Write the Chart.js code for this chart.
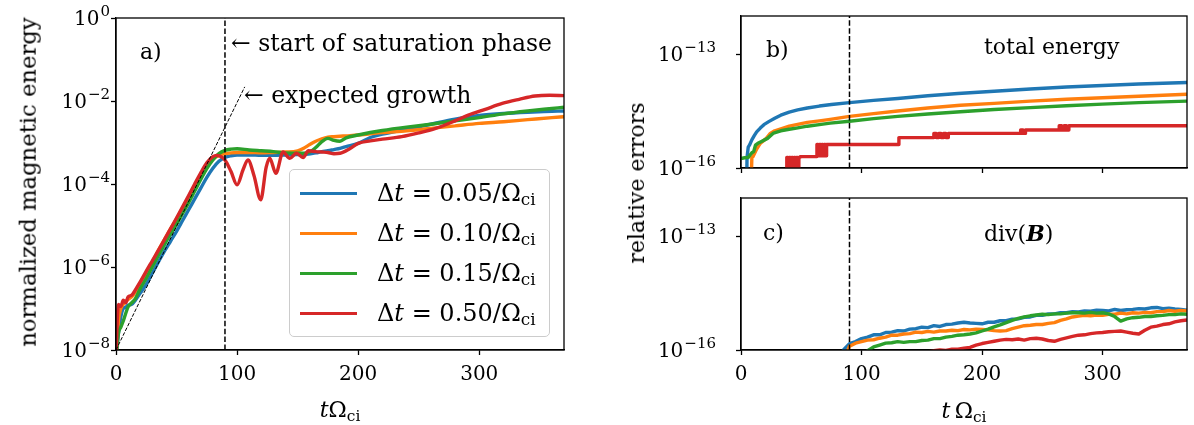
<!DOCTYPE html>
<html>
<head>
<meta charset="utf-8">
<script src="https://cdn.jsdelivr.net/npm/chart.js@4.4.0/dist/chart.umd.min.js"></script>
<style>
  body { margin: 0; background: #fff; }
  #fig { position: relative; width: 1194px; height: 425px; overflow: hidden;
         font-family: "DejaVu Serif", serif; color: #000; }
  .pane { position: absolute; }
  .txt { position: absolute; white-space: nowrap; font-size: 22px; line-height: 1;
         transform: translate(0, -50%); }
  .big { font-size: 23.5px; }
  .ctr { transform: translate(-50%, -50%); }
  .rot { transform: translate(-50%, -50%) rotate(-90deg); }
  sub { font-size: 70%; vertical-align: -0.25em; line-height: 0; }
  #legend { position: absolute; left: 289px; top: 169px; width: 261px; height: 168px;
            box-sizing: border-box; border: 1px solid #cccccc; border-radius: 5px;
            background: rgba(255, 255, 255, 0.8); }
  .row { position: absolute; left: 0; }
  .swatch { position: absolute; left: 10px; top: -1.5px; width: 57px; height: 3px; }
  .lab { position: absolute; left: 87px; top: 0; font-size: 24px; line-height: 1;
         white-space: nowrap; transform: translate(0, -50%); }
</style>
</head>
<body>
<div id="fig">
  <div class="pane" style="left:0;top:0;"><canvas id="chartA" width="580" height="425"></canvas></div>
  <div class="pane" style="left:600px;top:0;"><canvas id="chartB" width="594" height="180"></canvas></div>
  <div class="pane" style="left:600px;top:180px;"><canvas id="chartC" width="594" height="245"></canvas></div>

  <div class="txt" style="left:140px;top:52px;">a)</div>
  <div class="txt big" style="left:231px;top:44px;">← start of saturation phase</div>
  <div class="txt big" style="left:244px;top:96px;">← expected growth</div>
  <div class="txt rot" style="left:28px;top:182px;font-size:22.7px;">normalized magnetic energy</div>
  <div class="txt ctr" style="left:340px;top:410px;"><i>t</i>Ω<sub>ci</sub></div>

  <div class="txt" style="left:766px;top:50px;">b)</div>
  <div class="txt" style="left:984px;top:47px;">total energy</div>
  <div class="txt" style="left:763px;top:233px;">c)</div>
  <div class="txt" style="left:984px;top:233px;">div(<b><i>B</i></b>)</div>
  <div class="txt rot" style="left:637px;top:183px;">relative errors</div>
  <div class="txt ctr" style="left:964px;top:411px;"><i>t</i>&#8201;Ω<sub>ci</sub></div>

  <div id="legend"></div>
</div>
<script>
// colours of the four runs
var runColors = ["#1f77b4", "#ff7f0e", "#2ca02c", "#d62728"];
var runLabels = ["0.05", "0.10", "0.15", "0.50"];

// saturation phase starts here
var tSaturation = 90;

// panel a) normalized magnetic energy, log10 values
var tA = [0, 2, 4, 6, 8, 10, 13, 16, 20, 25, 30, 35, 40, 45, 50, 55, 60, 65, 70, 75, 80, 85, 90, 95, 100,
  110, 120, 130, 140, 150, 155, 160, 165, 170, 175, 180, 185, 190, 200, 210, 220, 240, 260, 280, 300, 320, 340, 360, 370];
var aBlue = [-8.2, -7.6, -7.2, -7.0, -6.97, -6.92, -6.9, -6.8, -6.63, -6.42, -6.15, -5.88, -5.62, -5.38, -5.14, -4.88, -4.62, -4.36, -4.1, -3.84, -3.62, -3.45, -3.36, -3.32, -3.3,
  -3.3, -3.31, -3.31, -3.3, -3.29, -3.29, -3.27, -3.25, -3.22, -3.2, -3.17, -3.14, -3.1, -3.02, -2.88, -2.8, -2.68, -2.56, -2.44, -2.35, -2.3, -2.27, -2.25, -2.24];
var aOrange = [-8.2, -7.3, -7.0, -6.9, -6.84, -6.78, -6.72, -6.6, -6.38, -6.14, -5.88, -5.6, -5.34, -5.08, -4.84, -4.58, -4.32, -4.05, -3.78, -3.55, -3.4, -3.31, -3.27, -3.25, -3.24,
  -3.24, -3.25, -3.24, -3.23, -3.2, -3.14, -3.05, -2.97, -2.91, -2.87, -2.86, -2.85, -2.84, -2.82, -2.79, -2.76, -2.72, -2.66, -2.6, -2.54, -2.5, -2.45, -2.4, -2.38];
var aGreen = [-8.2, -7.6, -7.45, -7.3, -7.12, -6.96, -6.86, -6.76, -6.52, -6.27, -5.99, -5.72, -5.46, -5.21, -4.97, -4.71, -4.45, -4.17, -3.89, -3.63, -3.42, -3.27, -3.19, -3.16, -3.15,
  -3.18, -3.2, -3.22, -3.25, -3.26, -3.26, -3.23, -3.12, -2.98, -2.9, -2.95, -2.97, -2.89, -2.82, -2.76, -2.71, -2.63, -2.56, -2.48, -2.4, -2.31, -2.24, -2.18, -2.15];
var tARed = [0, 1, 2, 4, 6, 8, 10, 13, 16, 20, 25, 30, 35, 40, 45, 50, 55, 60, 65, 70, 75, 80,
  83, 86, 90, 95, 100, 105, 109, 114, 119.5, 124, 127, 132, 138, 143.5, 149, 154.5, 159,
  165, 170, 175, 180, 185, 193, 200, 210, 220, 236, 250, 264, 280, 291, 305, 319, 333, 346, 358, 370];
var aRed = [-8.2, -7.3, -6.9, -6.95, -6.8, -6.86, -6.72, -6.68, -6.55, -6.36, -6.1, -5.85, -5.6, -5.34, -5.08, -4.82, -4.55, -4.28, -4.0, -3.73, -3.49, -3.34,
  -3.31, -3.33, -3.42, -3.7, -4.02, -3.65, -3.42, -3.8, -4.38, -3.6, -3.38, -3.74, -3.23, -3.38, -3.26, -3.36, -3.2,
  -3.22, -3.23, -3.24, -3.27, -3.26, -3.15, -3.02, -2.96, -2.92, -2.86, -2.77, -2.66, -2.48, -2.34, -2.2, -2.06, -1.96, -1.88, -1.86, -1.87];
// expected exponential growth (end points)
var tExpected = [0, 106.3];
var expectedLog = [-8, -1.66];

// panel b) relative error of total energy, log10 values
var tBBlue = [4.5, 5, 6, 7, 9, 11, 13, 16, 19, 23, 28, 33, 40, 47, 55, 65, 75, 90, 110, 130, 155, 180, 210, 240, 270, 300, 330, 370];
var bBlue = [-17, -15.72, -15.45, -15.4, -15.26, -15.15, -15.05, -14.95, -14.86, -14.78, -14.69, -14.61, -14.53, -14.47, -14.42, -14.37, -14.33, -14.28, -14.22, -14.17, -14.1, -14.04, -13.98, -13.92, -13.87, -13.83, -13.79, -13.75];
var tBOrange = [8, 9, 10, 13, 16, 18, 21, 24, 28, 35, 40, 46, 55, 65, 74, 90, 110, 130, 155, 182, 210, 240, 270, 300, 330, 370];
var bOrange = [-17, -15.72, -15.7, -15.5, -15.35, -15.3, -15.22, -15.1, -15.02, -14.95, -14.9, -14.86, -14.8, -14.76, -14.72, -14.64, -14.57, -14.5, -14.42, -14.35, -14.3, -14.24, -14.19, -14.15, -14.11, -14.06];
var tBGreen = [0, 3, 6, 9, 10.5, 12, 14, 17, 22, 27, 33, 40, 46, 55, 65, 74, 90, 110, 130, 155, 182, 210, 240, 270, 300, 330, 370];
var bGreen = [-15.75, -15.73, -15.72, -15.6, -15.57, -15.4, -15.35, -15.3, -15.22, -15.08, -15.02, -14.98, -14.95, -14.9, -14.86, -14.82, -14.77, -14.7, -14.64, -14.58, -14.52, -14.46, -14.41, -14.36, -14.32, -14.28, -14.24];
var tBRed = [0, 38, 39, 40, 41, 42, 43, 44, 45, 46, 47, 48, 49, 63, 64, 65, 66, 67, 68, 69, 70, 71, 131,
  160, 162, 164, 166, 168, 170, 172, 174, 232, 234, 236, 238, 264, 266, 268, 270, 272, 370];
var bRed = [-17, -15.72, -16.2, -15.72, -16.2, -15.72, -16.2, -15.72, -16.2, -15.72, -16.2, -15.72, -15.7,
  -15.38, -15.68, -15.38, -15.68, -15.38, -15.68, -15.38, -15.68, -15.38, -15.2,
  -15.09, -15.2, -15.09, -15.2, -15.09, -15.2, -15.09, -15.09, -15.0, -15.09, -15.0, -15.0,
  -14.89, -15.0, -14.89, -15.0, -14.89, -14.89];

// panel c) relative error of div(B), log10 values
var tC = [80, 85, 90, 95, 100, 105, 110, 115, 120, 125, 130, 135, 140, 145, 150, 155, 160, 165, 170, 175,
  180, 185, 190, 195, 200, 205, 210, 215, 220, 225, 230, 235, 240, 245, 250, 255, 260, 265, 270, 275,
  280, 285, 290, 295, 300, 305, 310, 315, 320, 325, 330, 335, 340, 345, 350, 355, 360, 365, 370];
var cBlue = [-16.3, -16.0, -15.83, -15.78, -15.7, -15.66, -15.6, -15.6, -15.54, -15.53, -15.49, -15.5, -15.45, -15.44, -15.4, -15.41, -15.36, -15.38, -15.33, -15.32,
  -15.29, -15.27, -15.29, -15.3, -15.31, -15.27, -15.27, -15.23, -15.23, -15.19, -15.18, -15.14, -15.13, -15.09, -15.09, -15.05, -15.05, -15.02, -15.02, -14.99,
  -15.0, -14.97, -14.98, -14.95, -14.96, -14.97, -14.93, -14.96, -14.94, -14.93, -14.91, -14.92, -14.89, -14.88, -14.91, -14.9, -14.92, -14.93, -14.95];
var cOrange = [-17, -16.3, -15.9, -15.82, -15.78, -15.74, -15.73, -15.69, -15.66, -15.61, -15.61, -15.58, -15.57, -15.53, -15.54, -15.51, -15.53, -15.5, -15.5, -15.48,
  -15.49, -15.46, -15.47, -15.45, -15.46, -15.47, -15.49, -15.5, -15.49, -15.44, -15.4, -15.36, -15.35, -15.33, -15.33, -15.3, -15.28, -15.22, -15.18, -15.13,
  -15.11, -15.09, -15.1, -15.08, -15.09, -15.06, -15.06, -15.03, -15.05, -15.02, -15.03, -15.01, -15.02, -14.99, -14.99, -14.96, -14.98, -14.96, -14.97];
var cGreen = [-17, -17, -17, -17, -16.2, -16.02, -15.92, -15.87, -15.82, -15.81, -15.78, -15.8, -15.78, -15.78, -15.75, -15.74, -15.7, -15.7, -15.66, -15.64,
  -15.61, -15.6, -15.58, -15.55, -15.5, -15.45, -15.39, -15.34, -15.28, -15.22, -15.17, -15.13, -15.1, -15.08, -15.06, -15.07, -15.05, -15.05, -15.03, -15.02,
  -15.02, -15.03, -15.01, -15.03, -15.02, -15.05, -15.12, -15.24, -15.18, -15.15, -15.14, -15.12, -15.12, -15.1, -15.09, -15.07, -15.07, -15.05, -15.06];
var cRed = [-17, -17, -17, -17, -17, -17, -17, -17, -17, -17, -17, -17, -17, -16.3, -16.1, -16.05, -16.02, -16.0, -16.01, -15.98,
  -15.98, -15.95, -15.93, -15.87, -15.83, -15.8, -15.77, -15.74, -15.72, -15.73, -15.71, -15.74, -15.7, -15.69, -15.71, -15.75, -15.77, -15.72, -15.68, -15.64,
  -15.61, -15.6, -15.57, -15.55, -15.54, -15.52, -15.51, -15.5, -15.53, -15.56, -15.58, -15.48, -15.4, -15.37, -15.33, -15.31, -15.26, -15.23, -15.21];

// axis ticks
var xTicks = [0, 100, 200, 300];
var aYTicks = [1e-8, 1e-6, 1e-4, 1e-2, 1];
var errYTicks = [1e-16, 1e-13];

var serif = '"DejaVu Serif", serif';

function points(ts, logs) {
  return ts.map(function (t, i) { return { x: t, y: Math.pow(10, logs[i]) }; });
}

function run(ts, logs, idx, extra) {
  var ds = {
    data: points(ts, logs),
    borderColor: runColors[idx],
    borderWidth: 3.4,
    pointRadius: 0,
    fill: false,
    clip: 0,
    order: 4 - idx,
    borderJoinStyle: "round"
  };
  return Object.assign(ds, extra || {});
}

function vline(ymin, ymax) {
  return {
    data: [{ x: tSaturation, y: ymin }, { x: tSaturation, y: ymax }],
    borderColor: "#000", borderWidth: 1.5, borderDash: [5.5, 2.4],
    pointRadius: 0, fill: false, clip: 0, order: 0
  };
}

// box around the plot area
var framePlugin = {
  id: "frame",
  afterDraw: function (chart) {
    var a = chart.chartArea, c = chart.ctx;
    c.save();
    c.strokeStyle = "#000";
    c.lineWidth = 1.3;
    c.strokeRect(a.left, a.top, a.right - a.left, a.bottom - a.top);
    c.restore();
  }
};

// y tick labels as 10 with a raised exponent
var powTicksPlugin = {
  id: "powTicks",
  afterDraw: function (chart, args, opts) {
    var s = chart.scales.y, c = chart.ctx;
    c.save();
    c.fillStyle = "#000";
    c.textBaseline = "alphabetic";
    c.textAlign = "left";
    s.ticks.forEach(function (t) {
      var y = s.getPixelForValue(t.value);
      var e = String(Math.round(Math.log10(t.value))).replace("-", "\u2212");
      c.font = "15px " + serif;
      var we = c.measureText(e).width;
      c.font = "20px " + serif;
      var wb = c.measureText("10").width;
      var right = s.right - 5 - opts.gap;
      c.fillText("10", right - we - wb - 1, y + 7);
      c.font = "15px " + serif;
      c.fillText(e, right - we, y - 2);
    });
    c.restore();
  }
};

var tickFont = { family: serif, size: 20 };

function makeOptions(o) {
  return {
    responsive: false,
    animation: false,
    events: [],
    layout: { padding: o.padding },
    plugins: { legend: { display: false }, tooltip: { enabled: false }, powTicks: { gap: o.labelGap } },
    scales: {
      x: {
        type: "linear", min: 0, max: 370,
        afterBuildTicks: function (s) { s.ticks = xTicks.map(function (v) { return { value: v }; }); },
        afterFit: function (s) { s.height = o.xHeight; },
        grid: { drawOnChartArea: false, drawTicks: true, tickLength: 5, tickWidth: 1.3, tickColor: "#000" },
        border: { display: true, color: "#000", width: 1.3 },
        ticks: { display: o.xLabels, color: "#000", font: tickFont, padding: 8, maxRotation: 0 }
      },
      y: {
        type: "logarithmic", min: o.ymin, max: o.ymax,
        afterBuildTicks: function (s) { s.ticks = o.yTicks.map(function (v) { return { value: v }; }); },
        afterFit: function (s) { s.width = o.yWidth; },
        grid: { drawOnChartArea: false, drawTicks: true, tickLength: 5, tickWidth: 1.3, tickColor: "#000" },
        border: { display: true, color: "#000", width: 1.3 },
        ticks: { display: false }
      }
    }
  };
}

// panel a
new Chart(document.getElementById("chartA"), {
  type: "line",
  data: {
    datasets: [
      vline(1e-8, 1),
      { data: points(tExpected, expectedLog), borderColor: "#000", borderWidth: 1, borderDash: [3.7, 1.6],
        pointRadius: 0, fill: false, clip: 0, order: 0 },
      run(tARed, aRed, 3, { cubicInterpolationMode: "monotone" }),
      run(tA, aGreen, 2, { cubicInterpolationMode: "monotone" }),
      run(tA, aOrange, 1, { cubicInterpolationMode: "monotone" }),
      run(tA, aBlue, 0, { cubicInterpolationMode: "monotone" })
    ]
  },
  options: makeOptions({ padding: { left: 0, top: 18, right: 16, bottom: 0 }, xHeight: 75, yWidth: 116,
    ymin: 1e-8, ymax: 1, yTicks: aYTicks, xLabels: true, labelGap: 1 }),
  plugins: [framePlugin, powTicksPlugin]
});

// panel b
new Chart(document.getElementById("chartB"), {
  type: "line",
  data: {
    datasets: [
      vline(1e-16, 1e-12),
      run(tBRed, bRed, 3, { stepped: "before" }),
      run(tBGreen, bGreen, 2),
      run(tBOrange, bOrange, 1),
      run(tBBlue, bBlue, 0)
    ]
  },
  options: makeOptions({ padding: { left: 0, top: 16, right: 7, bottom: 0 }, xHeight: 12, yWidth: 141,
    ymin: 1e-16, ymax: 1e-12, yTicks: errYTicks, xLabels: false, labelGap: 20 }),
  plugins: [framePlugin, powTicksPlugin]
});

// panel c
new Chart(document.getElementById("chartC"), {
  type: "line",
  data: {
    datasets: [
      vline(1e-16, 1e-12),
      run(tC, cRed, 3),
      run(tC, cGreen, 2),
      run(tC, cOrange, 1),
      run(tC, cBlue, 0)
    ]
  },
  options: makeOptions({ padding: { left: 0, top: 18, right: 7, bottom: 0 }, xHeight: 75, yWidth: 141,
    ymin: 1e-16, ymax: 1e-12, yTicks: errYTicks, xLabels: true, labelGap: 20 }),
  plugins: [framePlugin, powTicksPlugin]
});

// legend of panel a
var legend = document.getElementById("legend");
runLabels.forEach(function (lab, i) {
  var row = document.createElement("div");
  row.className = "row";
  row.style.top = (23 + i * 40) + "px";
  row.innerHTML = '<div class="swatch" style="background:' + runColors[i] + '"></div>' +
    '<div class="lab">Δ<i>t</i> = ' + lab + '/Ω<sub>ci</sub></div>';
  legend.appendChild(row);
});
</script>
</body>
</html>
